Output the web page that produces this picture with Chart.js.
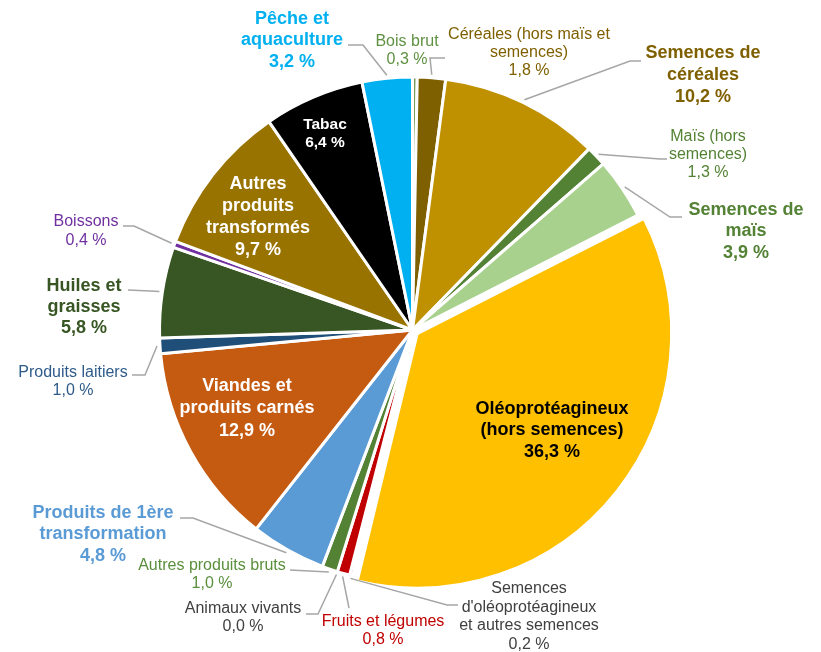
<!DOCTYPE html>
<html lang="fr">
<head>
<meta charset="utf-8">
<title>Répartition par produit</title>
<script src="https://cdn.jsdelivr.net/npm/chart.js@4.4.0/dist/chart.umd.js"></script>
<style>
  html, body { margin: 0; padding: 0; background: #fff; }
  #wrap { position: relative; width: 821px; height: 652px; }
</style>
</head>
<body>
<div id="wrap"><canvas id="pie" width="821" height="652"></canvas></div>
<script>
// Slices, clockwise from 12 o'clock
const categories = [
  'Bois brut',
  'Céréales (hors maïs et semences)',
  'Semences de céréales',
  'Maïs (hors semences)',
  'Semences de maïs',
  'Oléoprotéagineux (hors semences)',
  "Semences d'oléoprotéagineux et autres semences",
  'Fruits et légumes',
  'Animaux vivants',
  'Autres produits bruts',
  'Produits de 1ère transformation',
  'Viandes et produits carnés',
  'Produits laitiers',
  'Huiles et graisses',
  'Boissons',
  'Autres produits transformés',
  'Tabac',
  'Pêche et aquaculture'
];
const shares = [0.3, 1.8, 10.2, 1.3, 3.9, 36.3, 0.2, 0.8, 0.0, 1.0, 4.8, 12.9, 1.0, 5.8, 0.4, 9.7, 6.4, 3.2];

// label text, split the way it is printed
const labelLines = [
  ['Bois brut'],
  ['Céréales (hors maïs et', 'semences)'],
  ['Semences de', 'céréales'],
  ['Maïs (hors', 'semences)'],
  ['Semences de', 'maïs'],
  ['Oléoprotéagineux', '(hors semences)'],
  ['Semences', "d'oléoprotéagineux", 'et autres semences'],
  ['Fruits et légumes'],
  ['Animaux vivants'],
  ['Autres produits bruts'],
  ['Produits de 1ère', 'transformation'],
  ['Viandes et', 'produits carnés'],
  ['Produits laitiers'],
  ['Huiles et', 'graisses'],
  ['Boissons'],
  ['Autres', 'produits', 'transformés'],
  ['Tabac'],
  ['Pêche et', 'aquaculture']
];

const sliceColors = [
  '#7a9a5c', '#7f6000', '#bf9000', '#548235', '#a9d18e', '#ffc000',
  '#595959', '#c00000', '#404040', '#548235', '#5b9bd5', '#c55a11',
  '#1f4e79', '#375623', '#7030a0', '#997300', '#000000', '#00b0f0'
];

// label placement: centre x, first line y, line height, font size, bold, colour,
// and leader points from the label side towards the slice
const labelLayout = [
  { x: 407, y: 42,  lh: 18,   size: 16, bold: false, color: '#5f9142' },
  { x: 529, y: 35,  lh: 18,   size: 16, bold: false, color: '#7f6000', leader: [[445, 58], [430, 58]] },
  { x: 703, y: 53,  lh: 22,   size: 18, bold: true,  color: '#7f6000', leader: [[641, 61], [630, 61]] },
  { x: 708, y: 137, lh: 18,   size: 16, bold: false, color: '#548235', leader: [[667, 159], [660, 159]] },
  { x: 746, y: 210, lh: 21.5, size: 18, bold: true,  color: '#548235', leader: [[682, 217], [670, 217]] },
  { x: 552, y: 409, lh: 21.5, size: 18, bold: true,  color: '#000000' },
  { x: 529, y: 589, lh: 18.5, size: 16, bold: false, color: '#404040', leader: [[458, 605], [447, 605]] },
  { x: 383, y: 622, lh: 18,   size: 16, bold: false, color: '#c00000', leader: [[349, 608]] },
  { x: 243, y: 609, lh: 18,   size: 16, bold: false, color: '#404040', leader: [[306, 614], [318, 614]] },
  { x: 212, y: 566, lh: 18,   size: 16, bold: false, color: '#5a8f3c', leader: [[290, 570]] },
  { x: 103, y: 513, lh: 21.5, size: 18, bold: true,  color: '#5b9bd5', leader: [[180, 518], [193, 518]] },
  { x: 247, y: 386, lh: 22.5, size: 18, bold: true,  color: '#ffffff' },
  { x: 73,  y: 373, lh: 18,   size: 16, bold: false, color: '#2f5b8a', leader: [[132, 375], [145, 375]] },
  { x: 84,  y: 286, lh: 21,   size: 18, bold: true,  color: '#375623', leader: [[128, 290], [150, 291]] },
  { x: 86,  y: 222, lh: 19,   size: 16, bold: false, color: '#7030a0', leader: [[123, 226], [134, 226]] },
  { x: 258, y: 184, lh: 22,   size: 18, bold: true,  color: '#ffffff' },
  { x: 325, y: 125, lh: 18,   size: 15.5, bold: true, color: '#ffffff' },
  { x: 292, y: 19,  lh: 21.5, size: 18, bold: true,  color: '#00b0f0', leader: [[348, 45], [363, 45]] }
];

const FONT = '"Liberation Sans", Arial, sans-serif';
const fmtPct = v => v.toFixed(1).replace('.', ',') + ' %';

const sliceLabels = {
  id: 'sliceLabels',
  afterDatasetsDraw(chart) {
    const ctx = chart.ctx;
    const arcs = chart.getDatasetMeta(0).data;
    ctx.save();

    // leader lines first, text on top
    ctx.strokeStyle = '#a6a6a6';
    ctx.lineWidth = 1.5;
    labelLayout.forEach((lay, i) => {
      if (!lay.leader) return;
      const a = arcs[i].getProps(['x', 'y', 'startAngle', 'endAngle', 'outerRadius'], true);
      const mid = (a.startAngle + a.endAngle) / 2;
      const r = a.outerRadius + 3;
      ctx.beginPath();
      ctx.moveTo(lay.leader[0][0], lay.leader[0][1]);
      lay.leader.slice(1).forEach(p => ctx.lineTo(p[0], p[1]));
      ctx.lineTo(a.x + Math.cos(mid) * r, a.y + Math.sin(mid) * r);
      ctx.stroke();
    });

    ctx.textAlign = 'center';
    ctx.textBaseline = 'middle';
    labelLayout.forEach((lay, i) => {
      const lines = labelLines[i].concat([fmtPct(shares[i])]);
      ctx.font = (lay.bold ? 'bold ' : '') + lay.size + 'px ' + FONT;
      ctx.fillStyle = lay.color;
      lines.forEach((t, k) => ctx.fillText(t, lay.x, lay.y + k * lay.lh));
    });
    ctx.restore();
  }
};

new Chart(document.getElementById('pie'), {
  type: 'pie',
  data: {
    labels: categories,
    datasets: [{
      data: shares,
      backgroundColor: sliceColors,
      borderColor: '#ffffff',
      borderWidth: 3,
      // the oilseed slice is pulled out a little
      offset: shares.map((v, i) => i === 5 ? 24 : 0),
      radius: 253
    }]
  },
  options: {
    responsive: false,
    animation: false,
    layout: { padding: { top: 8, left: 4 } },
    plugins: {
      legend: { display: false },
      tooltip: { enabled: false }
    }
  },
  plugins: [sliceLabels]
});
</script>
</body>
</html>
